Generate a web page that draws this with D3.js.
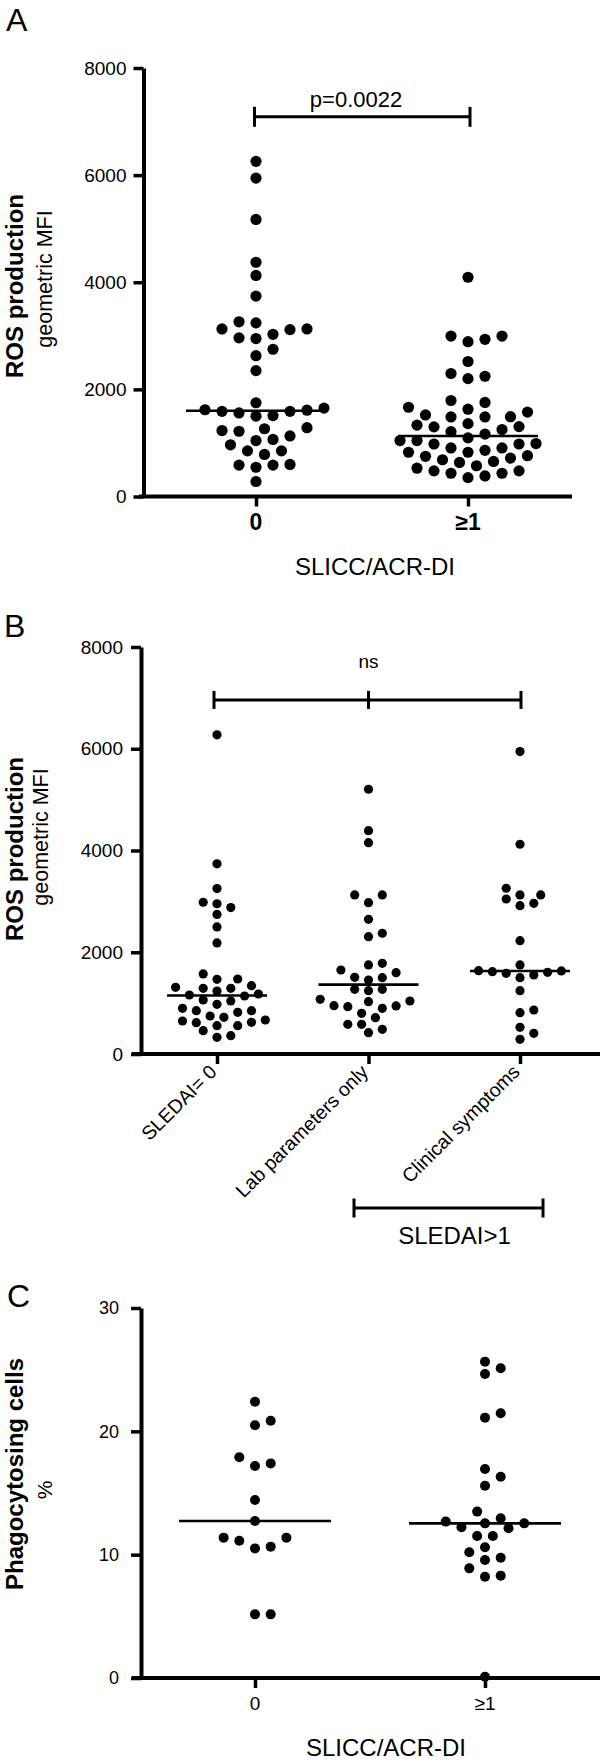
<!DOCTYPE html>
<html><head><meta charset="utf-8">
<script src="https://cdn.jsdelivr.net/npm/d3@7"></script>
<style>body{margin:0;background:#fff} svg{display:block}</style>
</head><body>
<svg id="chart" width="600" height="1762"></svg>
<script>
// ---------------- Data ----------------
// Panel A: ROS production by SLICC/ACR-DI
const categoriesA = ["0", "≥1"];
const rosDamage0 = [6257, 5944, 5172, 4373, 4127, 3741, 3261, 3241, 3128, 3115, 3128, 3028, 2949, 2962,
  2749, 2629, 2350, 1750, 1650, 1611, 1590, 1590, 1620, 1510, 1500, 1560, 1285, 1265, 1218, 1231,
  1131, 1065, 1045, 965, 852, 852, 785, 586, 599, 546, 586, 280];
const rosDamage1 = [4093, 2995, 2935, 2890, 2995, 2520, 2245, 2200, 2296, 1756, 1666, 1792, 1575, 1490,
  1485, 1485, 1523, 1630, 1332, 1360, 1305, 1300, 1210, 1165, 1250, 1095, 1045, 1045, 988, 980,
  907, 907, 980, 826, 826, 862, 762, 717, 750, 686, 636, 655, 574, 529, 479, 434, 353, 384, 434, 479];
const ticksRos = [0, 2000, 4000, 6000, 8000];
const pValueA = "p=0.0022";
const bracketValueA = 7088;

// Panel B: ROS production by SLEDAI
const categoriesB = ["SLEDAI= 0", "Lab parameters only", "Clinical symptoms"];
const rosSledai0 = [6273, 3739, 3252, 2953, 2983, 2879, 2744, 2497, 2183, 1573, 1468, 1474, 1343, 1291,
  1291, 1311, 1238, 1179, 1160, 1140, 1042, 1062, 977, 898, 852, 819, 852, 721, 747, 649, 668, 622,
  616, 557, 557, 459, 328, 360];
const rosLabOnly = [5204, 4390, 4154, 3126, 3126, 2975, 2648, 2373, 2306, 1750, 1783, 1599, 1651, 1500,
  1508, 1455, 1272, 1245, 1272, 950, 930, 1075, 1029, 1042, 898, 944, 800, 714, 583, 583, 419, 485];
const rosClinical = [5944, 4123, 3258, 3126, 3126, 2962, 2916, 3047, 2228, 1638, 1606, 1586, 1553, 1619,
  1632, 1750, 1500, 1245, 865, 812, 524, 406, 288];
const labelB = "ns";
const bracketValueB = 6960;
const groupLabelB = "SLEDAI>1";

// Panel C: Phagocytosing cells by SLICC/ACR-DI
const categoriesC = ["0", "≥1"];
const phago0 = [22.4, 20.86, 20.5, 17.9, 17.19, 17.4, 14.43, 12.73, 11.38, 10.65, 10.51, 11.13, 11.38, 5.16, 5.16];
const phago1 = [25.65, 24.65, 25.11, 21.46, 21.11, 16.32, 16.95, 15.59, 13.49, 12.95, 12.54, 12.22, 12.14,
  12.54, 12.68, 11.51, 11.51, 10.19, 10.6, 9.57, 9.75, 8.89, 8.3, 8.21, 0.1];
const ticksPhago = [0, 10, 20, 30];

// ---------------- Drawing ----------------
const FONT = "'Liberation Sans', Arial, Helvetica, sans-serif";
const svg = d3.select("#chart");

function swarm(values, y, step, minDist) {
  const pts = values.map(v => ({ v, y: y(v) })).sort((a, b) => a.v - b.v);
  const placed = [];
  pts.forEach(p => {
    for (let k = 0; k < 80; k++) {
      const cands = k === 0 ? [0] : [k * step, -k * step];
      const hit = cands.find(dx => placed.every(q => Math.hypot(q.dx - dx, q.y - p.y) >= minDist));
      if (hit !== undefined) { p.dx = hit; break; }
    }
    placed.push(p);
  });
  return placed;
}

function text(g, str, x, y, size, opts = {}) {
  const t = g.append("text").attr("x", x).attr("y", y).attr("font-size", size)
    .attr("font-family", FONT).attr("fill", "#000").text(str)
    .attr("text-anchor", opts.anchor || "start");
  if (opts.bold) t.attr("font-weight", "bold");
  if (opts.rotate !== undefined) t.attr("transform", `rotate(${opts.rotate},${x},${y})`);
  return t;
}

function drawPanel(p) {
  const g = svg.append("g");
  const y = d3.scaleLinear().domain([0, p.yMax]).range([p.yBottom, p.yTop]);
  const x = d3.scalePoint().domain(p.categories).range(p.catRange);

  // y axis
  const ya = g.append("g").attr("transform", `translate(${p.axisX},0)`)
    .call(d3.axisLeft(y).tickValues(p.ticks).tickSize(10).tickSizeOuter(0)
      .tickPadding(p.tickPad).tickFormat(d3.format("d")));
  ya.attr("font-size", p.tickFont).attr("font-family", FONT);
  ya.select(".domain").attr("stroke", "#000").attr("stroke-width", 4);
  ya.selectAll(".tick line").attr("stroke", "#000").attr("stroke-width", 3.5);
  ya.selectAll(".tick text").attr("fill", "#000");

  // x axis
  g.append("line").attr("x1", p.xLine[0]).attr("x2", p.xLine[1])
    .attr("y1", y(0)).attr("y2", y(0)).attr("stroke", "#000").attr("stroke-width", 4);
  const xa = g.append("g").attr("transform", `translate(0,${y(0)})`)
    .call(d3.axisBottom(x).tickSize(10).tickSizeOuter(0).tickFormat(""));
  xa.select(".domain").remove();
  xa.selectAll(".tick line").attr("stroke", "#000").attr("stroke-width", 3.5);

  // dots + medians
  p.groups.forEach((vals, i) => {
    const cx = x(p.categories[i]);
    const pts = swarm(vals, y, p.step, p.minDist);
    g.append("g").selectAll("circle").data(pts).join("circle")
      .attr("cx", d => cx + d.dx).attr("cy", d => d.y).attr("r", p.r).attr("fill", "#000");
    const med = d3.median(vals);
    g.append("line").attr("x1", cx - p.medHalf).attr("x2", cx + p.medHalf)
      .attr("y1", y(med)).attr("y2", y(med)).attr("stroke", "#000").attr("stroke-width", 2.6);
  });

  // panel letter
  text(g, p.letter, p.letterPos[0], p.letterPos[1], 32);
  // y titles
  text(g, p.yTitle, p.yTitlePos[0], p.yTitlePos[1], 24, { bold: true, anchor: "middle", rotate: -90 });
  text(g, p.ySub, p.ySubPos[0], p.ySubPos[1], p.ySubSize || 21.5, { anchor: "middle", rotate: -90 });

  return { g, x, y };
}

function bracket(g, x0, x1, yv, half, mids = []) {
  const ln = (a, b, c, d) => g.append("line").attr("x1", a).attr("y1", b).attr("x2", c).attr("y2", d)
    .attr("stroke", "#000").attr("stroke-width", 3);
  ln(x0, yv, x1, yv);
  [x0, x1, ...mids].forEach(xx => ln(xx, yv - half, xx, yv + half));
}

// ---- Panel A ----
const A = drawPanel({
  letter: "A", letterPos: [6, 31],
  yMax: 8000, yTop: 68, yBottom: 496.5, axisX: 143.5, ticks: ticksRos, tickFont: 19, tickPad: 7,
  xLine: [139, 572], categories: categoriesA, catRange: [256, 468],
  groups: [rosDamage0, rosDamage1], r: 5.6, step: 8.5, minDist: 13, medHalf: 70,
  yTitle: "ROS production", yTitlePos: [23, 286], ySub: "geometric MFI", ySubPos: [52, 279]
});
categoriesA.forEach(c => text(A.g, c, A.x(c), 530, 23, { bold: true, anchor: "middle" }));
text(A.g, "SLICC/ACR-DI", 375, 575, 24, { anchor: "middle" });
bracket(A.g, A.x(categoriesA[0]) - 1.5, A.x(categoriesA[1]) + 2, A.y(bracketValueA), 10);
text(A.g, pValueA, 356, 107, 22, { anchor: "middle" });

// ---- Panel B ----
const B = drawPanel({
  letter: "B", letterPos: [4, 636.5],
  yMax: 8000, yTop: 647, yBottom: 1054, axisX: 141, ticks: ticksRos, tickFont: 19, tickPad: 8,
  xLine: [132, 600], categories: categoriesB, catRange: [217, 520],
  groups: [rosSledai0, rosLabOnly, rosClinical], r: 4.6, step: 6.9, minDist: 10.5, medHalf: 50,
  yTitle: "ROS production", yTitlePos: [23, 849], ySub: "geometric MFI", ySubPos: [48, 837]
});
categoriesB.forEach(c => text(B.g, c, B.x(c) + 1, 1054 + 19, 19.5, { anchor: "end", rotate: -45 }));
bracket(B.g, B.x(categoriesB[0]) - 3, B.x(categoriesB[2]) + 1, B.y(bracketValueB), 9, [B.x(categoriesB[1])]);
text(B.g, labelB, B.x(categoriesB[1]), 668, 19, { anchor: "middle" });
bracket(B.g, 354, 543, 1208, 9.5);
text(B.g, groupLabelB, 454.5, 1244, 24, { anchor: "middle" });

// ---- Panel C ----
const C = drawPanel({
  letter: "C", letterPos: [7, 1307],
  yMax: 30, yTop: 1308, yBottom: 1678, axisX: 141, ticks: ticksPhago, tickFont: 18, tickPad: 12,
  xLine: [132, 600], categories: categoriesC, catRange: [255, 485],
  groups: [phago0, phago1], r: 5, step: 7.85, minDist: 12, medHalf: 76,
  yTitle: "Phagocytosing cells", yTitlePos: [23, 1474], ySub: "%", ySubPos: [52, 1490], ySubSize: 21
});
categoriesC.forEach(c => text(C.g, c, C.x(c), 1710, 19, { anchor: "middle" }));
text(C.g, "SLICC/ACR-DI", 386, 1756, 24, { anchor: "middle" });
</script>
</body></html>
